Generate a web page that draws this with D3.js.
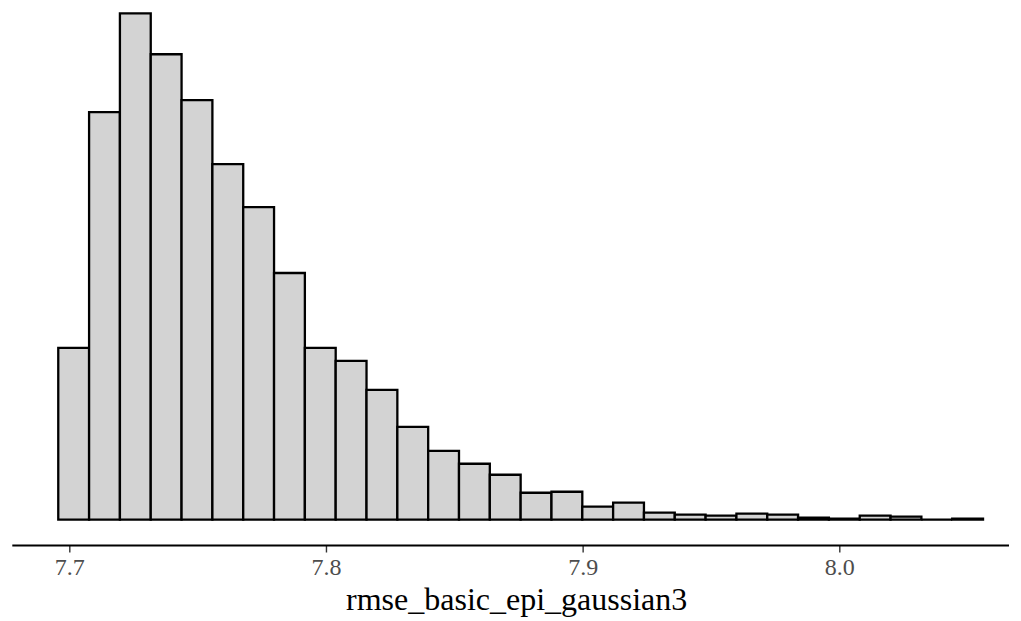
<!DOCTYPE html>
<html>
<head>
<meta charset="utf-8">
<script src="https://cdn.jsdelivr.net/npm/d3@7"></script>
<style>
  body { margin: 0; background: #fff; }
  .container { width: 1021px; height: 621px; }
</style>
</head>
<body>
<div class="container"></div>
<script>
// histogram bins (rmse values), 30 bins
const binStart = 7.6957;
const binWidth = 0.01201;
const counts = [172, 408, 507, 466, 420, 356, 313, 247, 172, 159,
                130, 93, 69, 56, 45, 27, 28, 13, 17, 7,
                5, 4, 6, 5, 2, 1, 4, 3, 0, 1];
const tickValues = [7.7, 7.8, 7.9, 8.0];
const xLabel = "rmse_basic_epi_gaussian3";

const w = 1021;
const h = 621;
const serif = "'Liberation Serif', Tinos, 'Times New Roman', 'DejaVu Serif', serif";

let xScale;
let yScale;

const svg = d3.select(".container")
              .append("svg")

const drawSvg = ()=>{
    svg.attr("width", w)
    svg.attr("height", h)
}

const generateScales = ()=>{
    xScale = d3.scaleLinear()
               .domain([7.7, 8.0])
               .range([69.3, 839.3])
    yScale = d3.scaleLinear()
               .domain([0, d3.max(counts)])
               .range([519.7, 13.3])
}

const drawBars = ()=>{
    // paths, so that empty bins still show as a flat line
    svg.selectAll("path.bar")
       .data(counts)
       .enter()
       .append("path")
       .attr("class", "bar")
       .attr("d", (d, i)=> {
           const x0 = xScale(binStart + i * binWidth);
           const x1 = xScale(binStart + (i + 1) * binWidth);
           return "M" + x0 + "," + yScale(0) + "V" + yScale(d) + "H" + x1 + "V" + yScale(0) + "Z";
       })
       .attr("fill", "#d3d3d3")
       .attr("stroke", "#000")
       .attr("stroke-width", 2.3)
}

const generateAxis = ()=>{
    const xAxis = d3.axisBottom(xScale)
                    .tickValues(tickValues)
                    .tickFormat(d3.format(".1f"))
                    .tickSizeInner(7)
                    .tickSizeOuter(0)
                    .tickPadding(5)
    const g = svg.append("g")
                 .attr("id", "x-axis")
                 .attr("transform", "translate(0,545.5)")
                 .call(xAxis)
    g.attr("font-family", serif)
    g.select(".domain").remove()
    g.append("line")
     .attr("x1", 12.3)
     .attr("x2", 1009)
     .attr("stroke", "#000")
     .attr("stroke-width", 1.8)
    g.selectAll(".tick line")
     .attr("stroke", "#333")
     .attr("stroke-width", 1.4)
    g.selectAll(".tick text")
     .attr("fill", "#4d4d4d")
     .attr("font-family", serif)
     .attr("font-size", 24)

    svg.append("text")
       .attr("x", (12.3 + 1009) / 2 + 6)
       .attr("y", 610)
       .attr("text-anchor", "middle")
       .attr("font-family", serif)
       .attr("font-size", 32)
       .attr("fill", "#000")
       .text(xLabel)
}

drawSvg();
generateScales();
drawBars();
generateAxis();
</script>
</body>
</html>
